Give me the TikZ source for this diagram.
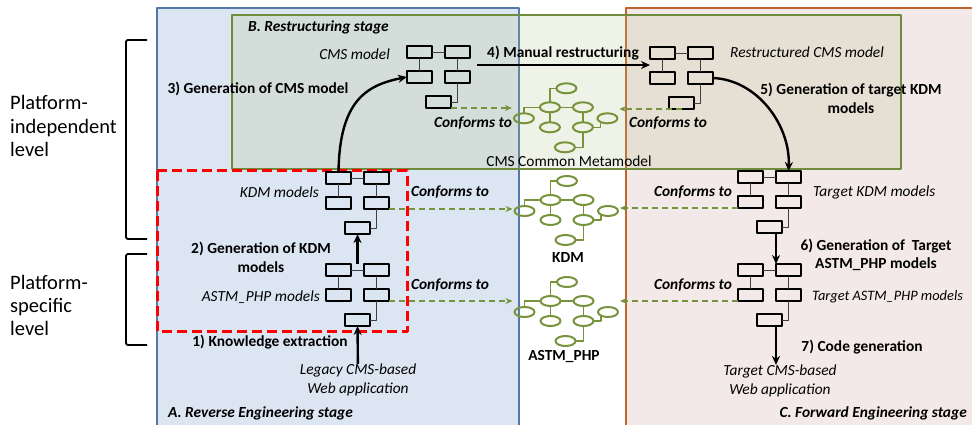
\documentclass[tikz,border=0pt]{standalone}
\usepackage{fontspec}
\setmainfont{Carlito}
\usetikzlibrary{shapes.geometric,arrows.meta,calc}
\definecolor{panelA}{RGB}{220,230,242}
\definecolor{edgeA}{RGB}{84,120,170}
\definecolor{panelC}{RGB}{243,233,232}
\definecolor{edgeC}{RGB}{192,100,45}
\definecolor{panelB}{RGB}{175,192,130}
\definecolor{edgeB}{RGB}{110,140,60}
\definecolor{meta}{RGB}{119,147,60}
\begin{document}
\begin{tikzpicture}[x=1pt, y=-1pt, line join=round, >={Stealth[length=9pt, width=8pt]},
		txt/.style={inner sep=0pt, align=center, font=\fontsize{15.4}{18.6}\selectfont},
		steplbl/.style={txt, font=\fontsize{15.4}{18.6}\selectfont\bfseries},
		modlbl/.style={txt, font=\fontsize{15.4}{18.6}\selectfont\itshape},
		conflbl/.style={txt, font=\fontsize{15.4}{18.6}\selectfont\bfseries\itshape},
		plab/.style={inner sep=0pt, align=left, font=\fontsize{20.5}{23.3}\selectfont},
		cbox/.style={draw, line width=1.5pt, minimum width=25pt, minimum height=12pt, inner sep=0pt, outer sep=0pt},
		link/.style={line width=0.8pt, black!75},
		ebox/.style={ellipse, draw=meta, line width=2pt, minimum width=20pt, minimum height=10pt, inner sep=0pt, outer sep=0pt},
		mlink/.style={meta, line width=1.5pt},
		flow/.style={->, line width=2.4pt},
		conf/.style={-{Stealth[length=7pt, width=6pt]}, meta, line width=1.8pt, dash pattern=on 6pt off 4pt, shorten >=2pt},
		classicon/.pic={
			\node[cbox] (-tl) at (12.5,6) {};
			\node[cbox] (-tr) at (50.5,6) {};
			\node[cbox] (-ml) at (12.5,31) {};
			\node[cbox] (-mr) at (50.5,31) {};
			\node[cbox] (-bt) at (31.5,56) {};
			\draw[link] (-tl) -- (-tr) (-tl) -- (-ml) (-tr) -- (-mr) (-mr.south) |- (-bt.east);
		},
		metaicon/.pic={
			\node[ebox] (-tp) at (0,-19) {};
			\node[ebox] (-ml) at (-16.5,0) {};
			\node[ebox] (-mr) at (16.5,0) {};
			\node[ebox] (-fl) at (-42.5,11) {};
			\node[ebox] (-fr) at (41,11) {};
			\node[ebox] (-ll) at (-16.5,20) {};
			\node[ebox] (-lr) at (16.5,20) {};
			\node[ebox] (-bt) at (-1.5,40) {};
			\draw[mlink] (-tp.west) -| (-ml.north) (-ml) -- (-mr) (-fl.north) |- (-ml.west)
				(-ml) -- (-ll) (-mr) -- (-lr) (-lr.east) -| (-fr.south west) (-bt.east) -| (-lr.south);
		}]
	\useasboundingbox (0,0) rectangle (972,425);
	\fill[panelA] (157,8) rectangle (519,432);
	\draw[edgeA, line width=1.5pt] (157,432) -- (157,8) -- (519,8) -- (519,432);
	\fill[panelC] (626,8) rectangle (980,432);
	\draw[edgeC, line width=1.5pt] (626,432) -- (626,8) -- (980,8);
	\draw[edgeB, line width=2pt, fill=panelB, fill opacity=0.2] (232,15) rectangle (901,169);
	\draw[red, line width=3pt, dash pattern=on 10pt off 5pt] (157,171) rectangle (407,331);
	\draw[line width=1.8pt, rounded corners=2pt] (147,40) -- (126,40) -- (126,239) -- (147,239);
	\draw[line width=1.8pt, rounded corners=2pt] (147,254) -- (126,254) -- (126,345) -- (147,345);
	\node[plab, anchor=west] (PI) at (10,126) {Platform-\\independent\\level};
	\node[plab, anchor=west] (PS) at (10,305.5) {Platform-\\specific\\level};

	\pic (cms) at (407,46) {classicon};
	\pic (rcms) at (650,47) {classicon};
	\pic (kdm) at (326,172) {classicon};
	\pic (astm) at (326,264) {classicon};
	\pic (tkdm) at (738,171) {classicon};
	\pic (ta) at (738,264) {classicon};
	\pic (ccm) at (566.4,107.3) {metaicon};
	\pic (kmm) at (567,200) {metaicon};
	\pic (amm) at (567,301) {metaicon};

	\node[conflbl, anchor=west] (B) at (248,27) {B. Restructuring stage};
	\node[conflbl, anchor=west] (A) at (168,413) {A. Reverse Engineering stage};
	\node[conflbl, anchor=east] (C) at (967,413) {C. Forward Engineering stage};

	\node[modlbl, anchor=east] (Lcms) at (390,54) {CMS model};
	\node[modlbl, anchor=west] (Lrcms) at (730,52) {Restructured CMS model};
	\node[modlbl, anchor=east] (Lkdm) at (319,192) {KDM models};
	\node[modlbl, anchor=east] (Lastm) at (320,297) {ASTM\_PHP models};
	\node[modlbl, anchor=west] (Ltkdm) at (813,192) {Target KDM models};
	\node[modlbl, anchor=west, font=\fontsize{14.4}{17}\selectfont\itshape] (Lta) at (812,297) {Target ASTM\_PHP models};
	\node[modlbl] (legacy) at (358,380) {Legacy CMS-based\\Web application};
	\node[modlbl] (tweb) at (780,381) {Target CMS-based\\Web application};

	\node[txt] (Mccm) at (569,161) {CMS Common Metamodel};
	\node[steplbl] (Mkdm) at (568,258) {KDM};
	\node[steplbl] (Mastm) at (564,357) {ASTM\_PHP};

	\node[steplbl] (S1) at (270,342) {1) Knowledge extraction};
	\node[steplbl] (S2) at (261,257.5) {2) Generation of KDM\\models};
	\node[steplbl] (S3) at (258,89) {3) Generation of CMS model};
	\node[steplbl] (S4) at (563,53) {4) Manual restructuring};
	\node[steplbl] (S5) at (851,98.5) {5) Generation of target KDM\\models};
	\node[steplbl] (S6) at (876,255) {6) Generation of\ \ Target\\ASTM\_PHP models};
	\node[steplbl] (S7) at (862,347) {7) Code generation};

	\node[conflbl] (F1) at (473,123) {Conforms to};
	\node[conflbl] (F2) at (668,123) {Conforms to};
	\node[conflbl] (F3) at (450,192) {Conforms to};
	\node[conflbl] (F4) at (450,285) {Conforms to};
	\node[conflbl] (F5) at (693,192) {Conforms to};
	\node[conflbl] (F6) at (693,285) {Conforms to};

	\coordinate (R1) at (477,65);
	\coordinate (R2) at (650,65);
	\draw[flow] (legacy) -- (astm-bt);
	\draw[flow] ($(astm-tl.north east)!.5!(astm-tr.north west)$) -- (kdm-bt.south);
	\draw[flow] (kdm-tl.north) .. controls +(1,-72) and +(-40,8) .. (cms-ml.west);
	\draw[flow] (R1) -- (R2);
	\draw[flow] (rcms-mr.east) .. controls +(45,2) and +(2,-45) .. (tkdm-tr.north);
	\draw[flow] (tkdm-bt.south -| ta-tr.west) -- (ta-tr.north west);
	\draw[flow] (ta-bt.south -| ta-tr.west) -- (ta-tr.west |- tweb.north);

	\draw[conf] (cms-bt.south east) -- (cms-bt.south east -| ccm-fl.west);
	\draw[conf] (rcms-bt.south) -- (rcms-bt.south -| ccm-fr.east);
	\draw[conf] (kdm-mr.south east) -- (kdm-mr.south east -| kmm-fl.west);
	\draw[conf] (astm-mr.south east) -- (astm-mr.south east -| amm-fl.west);
	\draw[conf] (tkdm-ml.south west) -- (tkdm-ml.south west -| kmm-fr.east);
	\draw[conf] (ta-ml.south west) -- (ta-ml.south west -| amm-fr.east);
\end{tikzpicture}
\end{document}
